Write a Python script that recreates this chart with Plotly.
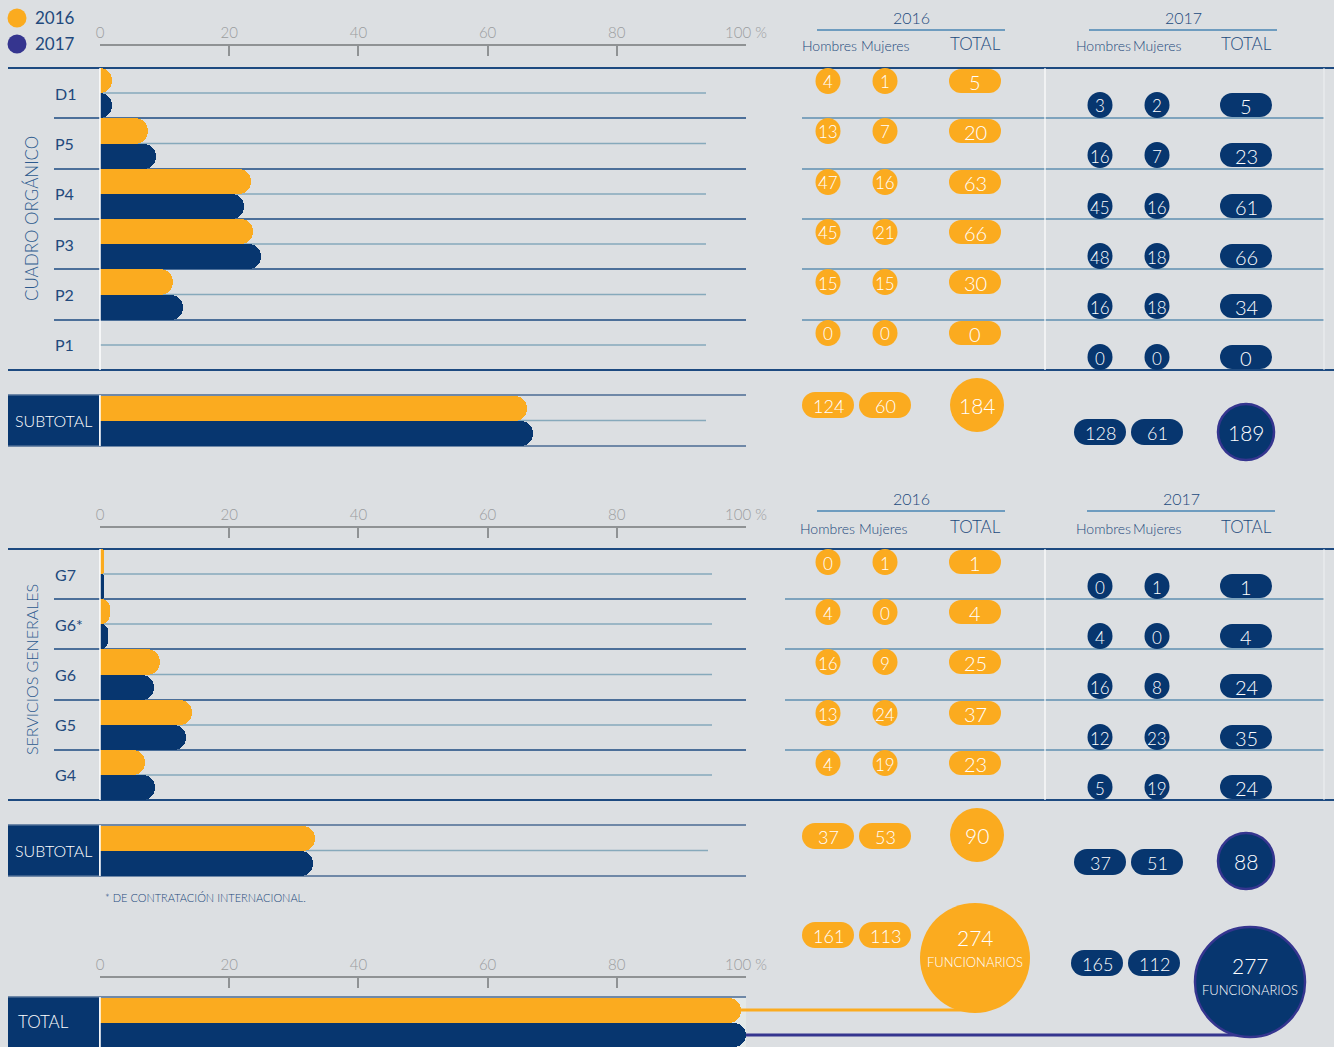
import plotly.graph_objects as go

# ---------------- DATA ----------------
cats_a = ["D1", "P5", "P4", "P3", "P2", "P1"]
pct_a_2016 = [1.9, 7.4, 23.4, 23.7, 11.3, 0]
pct_a_2017 = [1.9, 8.7, 22.3, 24.9, 12.8, 0]
hom_a_2016 = [4, 13, 47, 45, 15, 0]
muj_a_2016 = [1, 7, 16, 21, 15, 0]
tot_a_2016 = [5, 20, 63, 66, 30, 0]
hom_a_2017 = [3, 16, 45, 48, 16, 0]
muj_a_2017 = [2, 7, 16, 18, 18, 0]
tot_a_2017 = [5, 23, 61, 66, 34, 0]
sub_a_pct = [66.1, 67.0]          # 2016, 2017
sub_a_2016 = [124, 60, 184]       # hombres, mujeres, total
sub_a_2017 = [128, 61, 189]

cats_b = ["G7", "G6*", "G6", "G5", "G4"]
pct_b_2016 = [0.6, 1.5, 9.3, 14.2, 7.0]
pct_b_2017 = [0.6, 1.2, 8.4, 13.3, 8.5]
hom_b_2016 = [0, 4, 16, 13, 4]
muj_b_2016 = [1, 0, 9, 24, 19]
tot_b_2016 = [1, 4, 25, 37, 23]
hom_b_2017 = [0, 4, 16, 12, 5]
muj_b_2017 = [1, 0, 8, 23, 19]
tot_b_2017 = [1, 4, 24, 35, 24]
sub_b_pct = [33.3, 33.0]
sub_b_2016 = [37, 53, 90]
sub_b_2017 = [37, 51, 88]

total_pct = [99.2, 100.0]
total_2016 = [161, 113, 274]
total_2017 = [165, 112, 277]

tick_vals = [0, 20, 40, 60, 80, 100]
tick_text = ["0", "20", "40", "60", "80", "100 %"]
years = ["2016", "2017"]

# ---------------- STYLE ----------------
W, H = 1334, 1047
BG = "#dcdfe2"
ORANGE = "#fbab1f"
NAVY = "#07366f"
PURPLE = "#35358f"
TXT = "#22497c"
GRAY = "#8f9294"
SEP = "#1d4a80"
SEP_R = "#5f8fb0"
MID = "#86a9bb"
FONT = "Lato"
LIGHT = 300


def fx(x):
    return x / W


def fy(y):
    return 1 - y / H


shapes = []
annotations = []


def line(x0, y0, x1, y1, color, width=1.5, layer="below"):
    shapes.append(dict(type="line", xref="paper", yref="paper",
                       x0=fx(x0), y0=fy(y0), x1=fx(x1), y1=fy(y1),
                       line=dict(color=color, width=width), layer=layer))


def rect(x0, y0, x1, y1, color):
    shapes.append(dict(type="rect", xref="paper", yref="paper",
                       x0=fx(x0), y0=fy(y0), x1=fx(x1), y1=fy(y1),
                       fillcolor=color, line=dict(width=0), layer="below"))


def ellipse(cx, cy, w, h, color, border=None, bw=0):
    shapes.append(dict(type="circle", xref="paper", yref="paper",
                       x0=fx(cx - w / 2), y0=fy(cy - h / 2),
                       x1=fx(cx + w / 2), y1=fy(cy + h / 2),
                       fillcolor=color,
                       line=dict(color=border or color, width=bw), layer="below"))


def pill(cx, cy, w, h, color):
    if w <= h + 1:
        ellipse(cx, cy, w, h, color)
        return
    r = h / 2
    ellipse(cx - w / 2 + r, cy, h, h, color)
    ellipse(cx + w / 2 - r, cy, h, h, color)
    rect(cx - w / 2 + r, cy - h / 2, cx + w / 2 - r, cy + h / 2, color)


def text(x, y, s, size=15, color=TXT, xanchor="center", angle=0, weight=LIGHT):
    annotations.append(dict(xref="paper", yref="paper", x=fx(x), y=fy(y),
                            text=s, showarrow=False, xanchor=xanchor,
                            yanchor="middle", textangle=angle,
                            font=dict(family=FONT, size=size, color=color, weight=weight)))


def value_pill(cx, cy, v, color, w=25, h=26, size=17):
    pill(cx, cy, w, h, color)
    text(cx, cy + 1, str(v), size=size, color="white")


# ---------------- FIGURE ----------------
fig = go.Figure()


def bar_pair(cats, v16, v17, xa, ya):
    fig.add_trace(go.Bar(y=cats, x=v16, orientation="h", name=years[0],
                         marker=dict(color=ORANGE, cornerradius="50%", line=dict(width=0)),
                         xaxis=xa, yaxis=ya))
    fig.add_trace(go.Bar(y=cats, x=v17, orientation="h", name=years[1],
                         marker=dict(color=NAVY, cornerradius="50%", line=dict(width=0)),
                         xaxis=xa, yaxis=ya))


bar_pair(cats_a, pct_a_2016, pct_a_2017, "x", "y")
bar_pair(["S"], [sub_a_pct[0]], [sub_a_pct[1]], "x2", "y2")
bar_pair(cats_b, pct_b_2016, pct_b_2017, "x3", "y3")
bar_pair(["S"], [sub_b_pct[0]], [sub_b_pct[1]], "x4", "y4")
bar_pair(["T"], [total_pct[0]], [total_pct[1]], "x5", "y5")
fig.update_traces(hoverinfo="skip", width=0.5)

XDOM = [fx(100), fx(746)]


def tick_axis(pos_px):
    return dict(domain=XDOM, range=[0, 100], anchor="free", position=fy(pos_px),
                side="top", showline=True, linecolor=GRAY, linewidth=1.5,
                ticks="inside", ticklen=10, tickwidth=1.5, tickcolor=GRAY,
                tickvals=tick_vals, ticktext=tick_text, showgrid=False,
                zeroline=False, automargin=False,
                tickfont=dict(family=FONT, size=15, color="#9a9c9e", weight=LIGHT),
                fixedrange=True)


def hidden_x(anchor):
    return dict(domain=XDOM, range=[0, 100], visible=False, anchor=anchor,
                showgrid=False, zeroline=False, automargin=False)


def cat_y(top, bottom, n, anchor):
    return dict(domain=[fy(bottom), fy(top)], type="category",
                range=[n - 0.5, -0.5], visible=False, anchor=anchor,
                showgrid=False, zeroline=False, automargin=False)


fig.update_layout(
    template="none",
    width=W, height=H, autosize=False,
    margin=dict(l=0, r=0, t=0, b=0, pad=0, autoexpand=False),
    paper_bgcolor=BG, plot_bgcolor="rgba(0,0,0,0)",
    showlegend=False, barmode="group", bargap=0, bargroupgap=0,
    font=dict(family=FONT, color=TXT),
    xaxis=tick_axis(45),
    yaxis=cat_y(68, 370, len(cats_a), "x"),
    xaxis2=hidden_x("y2"),
    yaxis2=cat_y(396, 446, 1, "x2"),
    xaxis3=tick_axis(527),
    yaxis3=cat_y(549, 800, len(cats_b), "x3"),
    xaxis4=hidden_x("y4"),
    yaxis4=cat_y(826, 876, 1, "x4"),
    xaxis5=tick_axis(977),
    yaxis5=cat_y(998, 1047, 1, "x5"),
)

# ---------------- LEGEND ----------------
ellipse(17, 18, 19, 19, ORANGE)
ellipse(17, 44, 19, 19, PURPLE)
text(33, 18, years[0], size=17, xanchor="left", weight=400)
text(33, 44, years[1], size=17, xanchor="left", weight=400)

# ---------------- PANEL GRIDS ----------------
rows_a = [68, 118, 169, 219, 269, 320, 370]
rows_b = [549, 599, 649, 700, 750, 800]


def panel_grid(rows, mid_end, right_start):
    top, bottom = rows[0], rows[-1]
    line(8, top, W, top, SEP, 2)
    line(8, bottom, W, bottom, SEP, 2)
    for y in rows[1:-1]:
        line(54, y, 746, y, SEP, 1.5)
        line(right_start, y, 1324, y, SEP_R, 1.5)
    for i in range(len(rows) - 1):
        ym = (rows[i] + rows[i + 1]) / 2
        line(100, ym, mid_end, ym, MID, 1.5)
    line(100, top, 100, bottom, "white", 1.5, layer="above")
    line(1045, top, 1045, bottom, "white", 1.2)
    line(1324, top, 1324, bottom, "#eef0f2", 1)


panel_grid(rows_a, 706, 802)
panel_grid(rows_b, 712, 785)

# row labels
for ref, cats in (("y", cats_a), ("y3", cats_b)):
    for c in cats:
        annotations.append(dict(xref="paper", yref=ref, x=fx(53), y=c, text=c,
                                showarrow=False, xanchor="left", yanchor="middle",
                                font=dict(family=FONT, size=16, color=TXT, weight=400)))

text(31, 219, "CUADRO ORGÁNICO", size=17, color="#2c5a8e", angle=-90)
text(31, 670, "SERVICIOS GENERALES", size=16, color="#2c5a8e", angle=-90)


# ---------------- TABLE HEADERS ----------------
def headers(ytitle, ysub, cx16, cx17, cols16, cols17, tot16, tot17):
    for cx, yr, cols, tot in [(cx16, years[0], cols16, tot16), (cx17, years[1], cols17, tot17)]:
        text(cx, ytitle, yr, size=16)
        line(cx - 94, ytitle + 12, cx + 94, ytitle + 12, "#4a86b3", 1.3)
        text(cols[0], ysub + 1, "Hombres", size=14)
        text(cols[1], ysub + 1, "Mujeres", size=14)
        text(tot, ysub - 1, "TOTAL", size=17)


headers(18, 45, 911, 1183, (829, 885), (1103, 1157), 975, 1246)
headers(499, 527, 911, 1181, (827, 883), (1103, 1157), 975, 1246)


# ---------------- ROW PILLS ----------------
def row_pills(rows, h16, m16, t16, h17, m17, t17):
    for i in range(len(rows) - 1):
        y16 = rows[i] + 13
        y17 = rows[i] + 37
        value_pill(828, y16, h16[i], ORANGE)
        value_pill(885, y16, m16[i], ORANGE)
        value_pill(975, y16, t16[i], ORANGE, w=52, h=24, size=20)
        value_pill(1100, y17, h17[i], NAVY)
        value_pill(1157, y17, m17[i], NAVY)
        value_pill(1246, y17, t17[i], NAVY, w=52, h=24, size=20)


row_pills(rows_a, hom_a_2016, muj_a_2016, tot_a_2016, hom_a_2017, muj_a_2017, tot_a_2017)
row_pills(rows_b, hom_b_2016, muj_b_2016, tot_b_2016, hom_b_2017, muj_b_2017, tot_b_2017)


# ---------------- SUBTOTAL ROWS ----------------
def subtotal(top, bottom, mid_end, v16, v17, y16, y17, c16y, c17y, label="SUBTOTAL"):
    rect(8, top, 99, bottom, NAVY)
    text(53, (top + bottom) / 2, label, size=16, color="white")
    line(8, top, 746, top, "#4b6b93", 1.5)
    line(8, bottom, 746, bottom, "#4b6b93", 1.5)
    line(100, (top + bottom) / 2, mid_end, (top + bottom) / 2, MID, 1.5)
    line(100, top, 100, bottom, "white", 1.5, layer="above")
    value_pill(828, y16, v16[0], ORANGE, w=52, h=26, size=18)
    value_pill(885, y16, v16[1], ORANGE, w=52, h=26, size=18)
    ellipse(977, c16y, 54, 54, ORANGE)
    text(977, c16y, str(v16[2]), size=21, color="white")
    value_pill(1100, y17, v17[0], NAVY, w=52, h=26, size=18)
    value_pill(1157, y17, v17[1], NAVY, w=52, h=26, size=18)
    ellipse(1246, c17y, 56, 56, NAVY, border=PURPLE, bw=2.5)
    text(1246, c17y, str(v17[2]), size=21, color="white")


subtotal(395, 446, 706, sub_a_2016, sub_a_2017, 405, 432, 405, 432)
subtotal(825, 876, 708, sub_b_2016, sub_b_2017, 836, 862, 835, 861)

text(103, 897, "* DE CONTRATACIÓN INTERNACIONAL.", size=11, color=TXT, xanchor="left")

# ---------------- TOTAL ----------------
rect(8, 997, 99, 1047, NAVY)
text(43, 1021, "TOTAL", size=17, color="white")
line(8, 997, 746, 997, "#4b6b93", 1.5)
rect(100, 998, 746, 1047, "#e4e9e8")
line(100, 997, 100, 1047, "white", 1.5, layer="above")
line(741, 1010, 975, 1010, ORANGE, 3)
line(746, 1035, 1250, 1035, PURPLE, 3)
ellipse(975, 958, 110, 110, ORANGE)
text(975, 937, str(total_2016[2]), size=21, color="white")
text(975, 962, "FUNCIONARIOS", size=13, color="white")
ellipse(1250, 982, 110, 110, NAVY, border=PURPLE, bw=2.5)
text(1250, 965, str(total_2017[2]), size=21, color="white")
text(1250, 990, "FUNCIONARIOS", size=13, color="white")
value_pill(828, 935, total_2016[0], ORANGE, w=52, h=26, size=18)
value_pill(885, 935, total_2016[1], ORANGE, w=52, h=26, size=18)
value_pill(1097, 963, total_2017[0], NAVY, w=52, h=26, size=18)
value_pill(1154, 963, total_2017[1], NAVY, w=52, h=26, size=18)

fig.update_layout(shapes=shapes, annotations=annotations)
fig.write_html("out.html", config={"displayModeBar": False, "responsive": False},
               post_script="document.body.style.margin='0';document.body.style.overflow='hidden';")
